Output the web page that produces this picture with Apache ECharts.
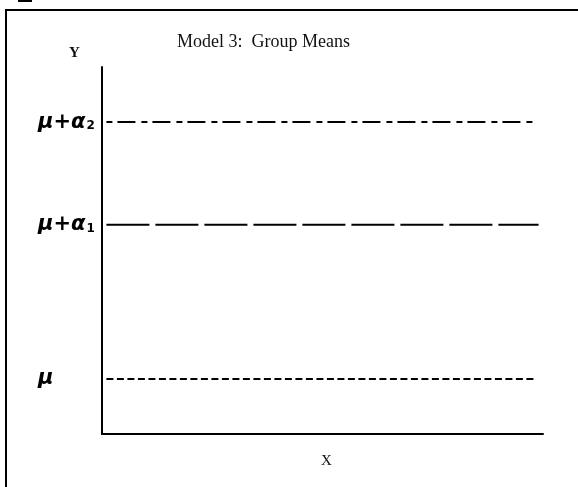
<!DOCTYPE html>
<html>
<head>
<meta charset="utf-8">
<script src="https://cdn.jsdelivr.net/npm/echarts@6/dist/echarts.min.js"></script>
<style>
  html, body { margin: 0; padding: 0; background: #fff; }
  #chart { width: 578px; height: 487px; }
</style>
</head>
<body>
<div id="chart"></div>
<script>
// Group means drawn as horizontal reference lines
const groupNames = ['mu', 'muAlpha1', 'muAlpha2'];
const groupLevels = [1.5, 5.7, 8.5];          // y value of each mean
const lineStarts = [0.1, 0.1, 0.1];           // x where each line starts
const lineEnds = [9.8, 9.9, 9.8];             // x where each line ends
const tickLabels = ['{m|\u03bc}', '{m|\u03bc+\u03b1}{s|1}', '{m|\u03bc+\u03b1}{s|2}'];
const dashPatterns = [[7, 3.5], [43, 6], [6, 5, 18, 6]];

const chart = echarts.init(document.getElementById('chart'), null, { renderer: 'canvas' });

const series = groupNames.map((name, i) => ({
  name: name,
  type: 'line',
  symbol: 'none',
  silent: true,
  data: [[lineStarts[i], groupLevels[i]], [lineEnds[i], groupLevels[i]]],
  lineStyle: { color: '#000', width: 2, type: dashPatterns[i] }
}));

const serif = '"Liberation Serif", "Times New Roman", serif';

chart.setOption({
  animation: false,
  backgroundColor: '#fff',
  title: [
    {
      text: 'Model 3:  Group Means',
      left: 172, top: 28,
      textStyle: { fontFamily: serif, fontSize: 18, fontWeight: 'normal', color: '#111' }
    },
    {
      text: 'Y',
      left: 64, top: 41,
      textStyle: { fontFamily: serif, fontSize: 15, fontWeight: 'bold', color: '#111' }
    },
    {
      text: 'X',
      left: 316, top: 449,
      textStyle: { fontFamily: serif, fontSize: 15, fontWeight: 'normal', color: '#111' }
    }
  ],
  graphic: [
    {
      type: 'rect',
      shape: { x: 6, y: 10, width: 620, height: 520 },
      style: { fill: null, stroke: '#000', lineWidth: 2 },
      silent: true
    },
    {
      type: 'rect',
      shape: { x: 18, y: 0, width: 14, height: 2 },
      style: { fill: '#000' },
      silent: true
    }
  ],
  grid: { left: 102, right: 35, top: 67, bottom: 53, containLabel: false },
  xAxis: {
    type: 'value', min: 0, max: 10,
    axisLine: { show: true, onZero: false, lineStyle: { color: '#000', width: 2 } },
    axisTick: { show: false },
    axisLabel: { show: false },
    splitLine: { show: false }
  },
  yAxis: {
    type: 'value', min: 0, max: 10,
    axisLine: { show: true, onZero: false, lineStyle: { color: '#000', width: 2 } },
    axisTick: { show: false },
    splitLine: { show: false },
    axisLabel: {
      show: true,
      customValues: groupLevels,
      margin: 64,
      align: 'left',
      formatter: function (v) {
        const idx = groupLevels.indexOf(v);
        return idx >= 0 ? tickLabels[idx] : '';
      },
      rich: {
        m: { fontFamily: '"DejaVu Sans", sans-serif', fontStyle: 'italic', fontWeight: 'bold', fontSize: 21, color: '#000' },
        s: { fontFamily: '"DejaVu Sans", sans-serif', fontSize: 12, fontWeight: 'bold', color: '#000', padding: [8, 0, 0, 1] }
      }
    }
  },
  series: series
});
</script>
</body>
</html>
